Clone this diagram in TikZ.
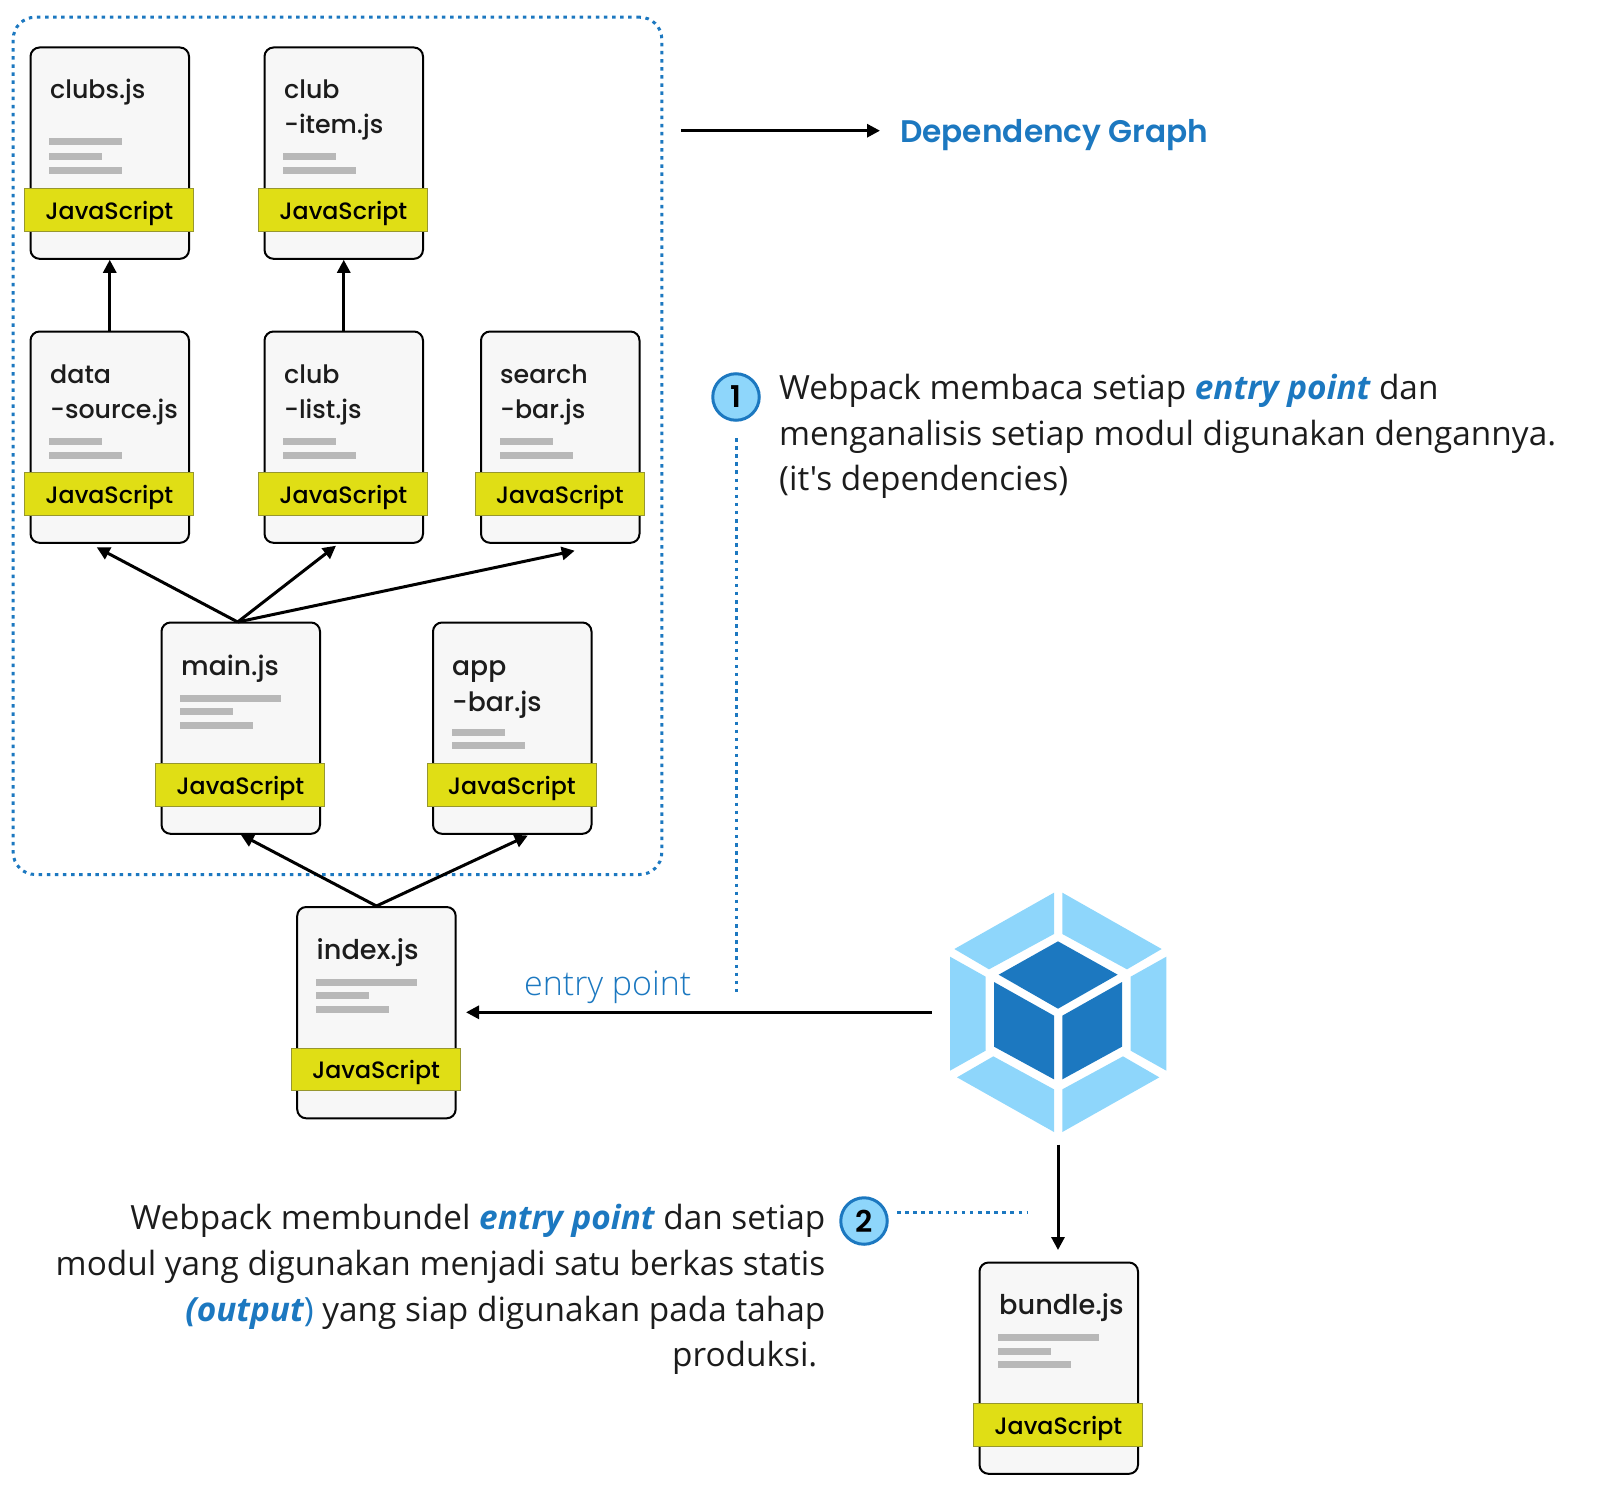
\documentclass[tikz,border=0pt]{standalone}
\usepackage{fontspec}
\newfontfamily\bodyfont{Open Sans}
\newfontfamily\lightfont{Open Sans Light}
\newfontfamily\cardfont{Poppins Medium}
\newfontfamily\headfont{Poppins SemiBold}
\usetikzlibrary{arrows.meta}
\definecolor{wpblue}{HTML}{1C78C0}
\definecolor{wplight}{HTML}{8ED6FB}
\definecolor{tagfill}{HTML}{E0DE15}
\definecolor{tagedge}{HTML}{97972F}
\definecolor{cardfill}{HTML}{F7F7F7}
\definecolor{barcol}{HTML}{B8B8B8}
\definecolor{inktext}{HTML}{1C1C1C}
\tikzset{
  x=1pt,y=-1pt,
  cardbox/.style={draw=black,fill=cardfill,line width=2pt,rounded corners=9pt,minimum width=158.5pt,minimum height=211.3pt,inner sep=0pt,anchor=north west},
  tagbox/.style={draw=tagedge,fill=tagfill,line width=1pt,minimum width=169pt,minimum height=42.5pt,inner sep=0pt,anchor=north west},
  tagtext/.style={font=\cardfont\fontsize{23.7}{28}\selectfont,text=black,anchor=base,inner sep=0pt},
  cardtitle/.style={font=\cardfont\fontsize{25.3}{30}\selectfont,text=inktext,anchor=base west,inner sep=0pt},
  titlebig/.style={cardtitle,font=\cardfont\fontsize{26.6}{30}\selectfont},
  titlehuge/.style={cardtitle,font=\cardfont\fontsize{27.2}{30}\selectfont},
  link/.style={draw=black,line width=3pt,-{Triangle[length=13pt,width=13pt]}},
  dotline/.style={draw=wpblue,line width=3pt,dash pattern=on 3.5pt off 4.6pt},
  badge/.style={circle,draw=wpblue,fill=wplight,line width=3pt,minimum size=46.5pt,inner sep=0pt,font=\headfont\fontsize{30}{30}\selectfont,text=black},
  para/.style={font=\bodyfont\fontsize{33.35}{45.7}\selectfont,text=inktext,inner sep=0pt},
}
\newcommand{\hl}[1]{\textcolor{wpblue}{\bfseries\itshape #1}}
\newcommand{\filecard}[4]{%
  \node[cardbox] (#1) at (#2-0.5,#3-0.5) {};
  \foreach \off/\wid in {#4} {\fill[barcol] (#2+19,#3+\off) rectangle (#2+19+\wid,#3+\off+7);}
  \node[tagbox] (#1-tag) at (#2-6,#3+141) {};
  \node[tagtext] (#1-lang) at (#2+79.3,#3+172) {JavaScript};
}
\begin{document}
\begin{tikzpicture}
\useasboundingbox (0,0) rectangle (1600,1496);
% dependency box
\node[draw=wpblue,line width=3pt,dash pattern=on 3.5pt off 4.6pt,rounded corners=22pt,minimum width=648.6pt,minimum height=857.3pt,anchor=north west,inner sep=0pt] (depbox) at (11.7,15.7) {};
% cards
\filecard{clubs}{30}{47}{91/73,106/53,120/73}
\node[cardtitle] (clubs-t) at (50,98) {clubs.js};
\filecard{item}{264}{47}{106/53,120/73}
\node[cardtitle] (item-t1) at (284,98) {club};
\node[cardtitle] (item-t2) at (284,133) {-item.js};
\filecard{source}{30}{331}{107/53,121/73}
\node[cardtitle] (source-t1) at (50,383) {data};
\node[cardtitle] (source-t2) at (50,418) {-source.js};
\filecard{list}{264}{331}{107/53,121/73}
\node[cardtitle] (list-t1) at (284,383) {club};
\node[cardtitle] (list-t2) at (284,418) {-list.js};
\filecard{search}{480.5}{331}{107/53,121/73}
\node[cardtitle] (search-t1) at (500,383) {search};
\node[cardtitle] (search-t2) at (500,418) {-bar.js};
\filecard{main}{161}{622}{72.5/101,86/53,99.5/73}
\node[titlebig] (main-t) at (181,675) {main.js};
\filecard{appbar}{432.5}{622}{106.5/53,120/73}
\node[titlebig] (appbar-t1) at (452,675) {app};
\node[titlebig] (appbar-t2) at (452,711.7) {-bar.js};
\filecard{index}{296.7}{906.5}{72/101,85.5/53,99/73}
\node[titlehuge] (index-t) at (316.5,959.3) {index.js};
\filecard{bundle}{979}{1262}{72/101,85.5/53,99/73}
\node[titlehuge] (bundle-t) at (999,1314.3) {bundle.js};
% webpack logo
\node[minimum width=252pt,minimum height=264pt,inner sep=0pt] (logo) at (1058,1012.3) {};
\begin{scope}[shift={(900,860)},x=0.33333pt,y=-0.33333pt]
  \fill[wplight] (462,98)--(462,222)--(267,328)--(163,267)--cycle;
  \fill[wplight] (487,98)--(785,267)--(681,328)--(487,222)--cycle;
  \fill[wplight] (799,290)--(799,632)--(692,572)--(692,350)--cycle;
  \fill[wplight] (778,652)--(487,816)--(487,688)--(669,589)--cycle;
  \fill[wplight] (171,652)--(280,589)--(462,688)--(462,816)--cycle;
  \fill[wplight] (150,290)--(257,350)--(257,572)--(150,632)--cycle;
  \fill[wpblue] (474,244)--(653,344)--(474,446)--(296,344)--cycle;
  \fill[wpblue] (282,366)--(462,467)--(462,658)--(282,560)--cycle;
  \fill[wpblue] (487,467)--(666,366)--(666,560)--(487,658)--cycle;
\end{scope}
% free ends
\coordinate (to-source) at (96.7,547.3);
\coordinate (to-list) at (336,545.7);
\coordinate (to-search) at (574.7,550.7);
\coordinate (main-top) at (237.7,622);
\coordinate (to-main) at (240.7,834.5);
\coordinate (to-appbar) at (527.8,835.5);
\coordinate (to-index) at (466,1012.3);
\coordinate (to-bundle) at (1058,1250);
\coordinate (dep-start) at (680.8,130.7);
\coordinate (dep-end) at (880,130.7);
\coordinate (dot1a) at (736.5,438);
\coordinate (dot1b) at (736.5,994);
\coordinate (dot2a) at (897,1212);
\coordinate (dot2b) at (1027,1212);
% connectors
\draw[link] (source.north) -- (clubs.south);
\draw[link] (list.north) -- (item.south);
\draw[link] (main-top) -- (to-source);
\draw[link] (main-top) -- (to-list);
\draw[link] (main-top) -- (to-search);
\draw[link] (index.north) -- (to-main);
\draw[link] (index.north) -- (to-appbar);
\draw[link] (logo.west) -- (to-index);
\draw[link] (logo.south) -- (to-bundle);
\draw[link] (dep-start) -- (dep-end);
\draw[dotline] (dot1a) -- (dot1b);
\draw[dotline] (dot2a) -- (dot2b);
% labels
\node[anchor=base west,inner sep=0pt,text=wpblue,font=\headfont\fontsize{31.2}{36}\selectfont] (deplabel) at (900,142.7) {Dependency Graph};
\node[badge] (badge1) at (736,397) {1};
\node[badge] (badge2) at (864,1221) {2};
\node[para,anchor=north west,align=left] (para1) at (779,374) {Webpack membaca setiap \hl{entry point} dan\\menganalisis setiap modul digunakan dengannya.\\(it's dependencies)};
\node[para,anchor=north east,align=right] (para2) at (825.5,1204.3) {Webpack membundel \hl{entry point} dan setiap\\modul yang digunakan menjadi satu berkas statis\\\hl{(output}\textcolor{wpblue}{)} yang siap digunakan pada tahap\\produksi.\hspace*{8pt}};
\node[anchor=base west,inner sep=0pt,text=wpblue,font=\lightfont\fontsize{34}{36}\selectfont] (entrylabel) at (524,995) {entry point};
\end{tikzpicture}
\end{document}
